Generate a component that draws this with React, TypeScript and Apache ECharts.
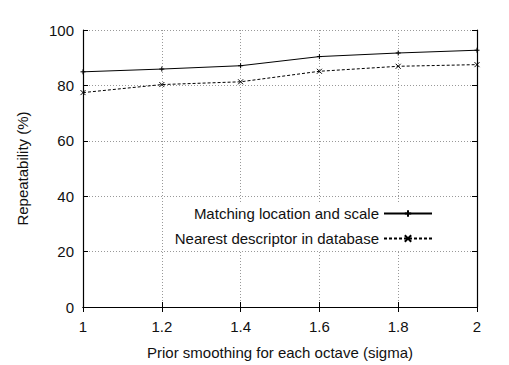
import React, { useEffect, useRef } from "react";
import * as echarts from "echarts";

const sigma = [1, 1.2, 1.4, 1.6, 1.8, 2];
const matching = [84.9, 85.9, 87.1, 90.4, 91.7, 92.7];
const nearest = [77.4, 80.3, 81.3, 85.1, 86.9, 87.5];
const seriesNames = ["Matching location and scale", "Nearest descriptor in database"];

const FONT = "'Liberation Sans', Arial, sans-serif";
const TXT = "#111";

export default function App() {
  const ref = useRef<HTMLDivElement>(null);
  useEffect(() => {
    if (!ref.current) return;
    const chart = echarts.init(ref.current, undefined, { renderer: "svg" });
    const plusPath = "path://M0,5L10,5M5,0L5,10";
    const crossPath = "path://M0,0L10,10M10,0L0,10";
    const tickLabel = (v: number) => String(Math.round(v * 10) / 10);
    const common = {
      axisLine: { show: true, lineStyle: { color: "#000", width: 1.2 } },
      axisTick: { show: true, inside: true, length: 5, lineStyle: { color: "#000" } },
    };
    chart.setOption({
      animation: false,
      backgroundColor: "#fff",
      textStyle: { fontFamily: FONT, color: TXT },
      grid: { left: 83, right: 32, top: 30, bottom: 51 },
      xAxis: [
        {
          type: "value",
          min: 1,
          max: 2,
          interval: 0.2,
          position: "bottom",
          name: "Prior smoothing for each octave (sigma)",
          nameLocation: "middle",
          nameGap: 38,
          nameTextStyle: { fontSize: 15, color: TXT, fontFamily: FONT },
          axisLabel: { fontSize: 15, color: TXT, margin: 12, formatter: tickLabel, fontFamily: FONT },
          splitLine: { show: true, lineStyle: { color: "#999", type: [1, 2], width: 1 } },
          ...common,
        },
        {
          type: "value",
          min: 1,
          max: 2,
          interval: 0.2,
          position: "top",
          axisLabel: { show: false },
          splitLine: { show: false },
          ...common,
        },
      ],
      yAxis: [
        {
          type: "value",
          min: 0,
          max: 100,
          interval: 20,
          position: "left",
          name: "Repeatability (%)",
          nameLocation: "middle",
          nameGap: 53,
          nameTextStyle: { fontSize: 15, color: TXT, fontFamily: FONT },
          axisLabel: { fontSize: 15, color: TXT, margin: 9, fontFamily: FONT },
          splitLine: { show: true, lineStyle: { color: "#999", type: [1, 2], width: 1 } },
          ...common,
        },
        {
          type: "value",
          min: 0,
          max: 100,
          interval: 20,
          position: "right",
          axisLabel: { show: false },
          splitLine: { show: false },
          ...common,
        },
      ],
      legend: {
        orient: "vertical",
        right: 72,
        top: 202,
        align: "right",
        itemWidth: 48,
        itemHeight: 8,
        itemGap: 10,
        padding: [4, 4, 4, 4],
        backgroundColor: "#fff",
        textStyle: { fontSize: 15, color: TXT, fontFamily: FONT, padding: [0, 0, 0, 0] },
        data: seriesNames,
      },
      series: [
        {
          name: seriesNames[0],
          type: "line",
          data: sigma.map((s, i) => [s, matching[i]]),
          symbol: plusPath,
          symbolSize: 5,
          lineStyle: { color: "#000", width: 1 },
          itemStyle: { color: "none", borderColor: "#000", borderWidth: 1 },
          z: 5,
        },
        {
          name: seriesNames[1],
          type: "line",
          data: sigma.map((s, i) => [s, nearest[i]]),
          symbol: crossPath,
          symbolSize: 5,
          lineStyle: { color: "#000", width: 1, type: [3, 2] },
          itemStyle: { color: "none", borderColor: "#000", borderWidth: 1 },
          z: 5,
        },
      ],
    });
    return () => chart.dispose();
  }, []);
  return <div ref={ref} style={{ width: 509, height: 365, position: "absolute", left: 0, top: 0 }} />;
}
